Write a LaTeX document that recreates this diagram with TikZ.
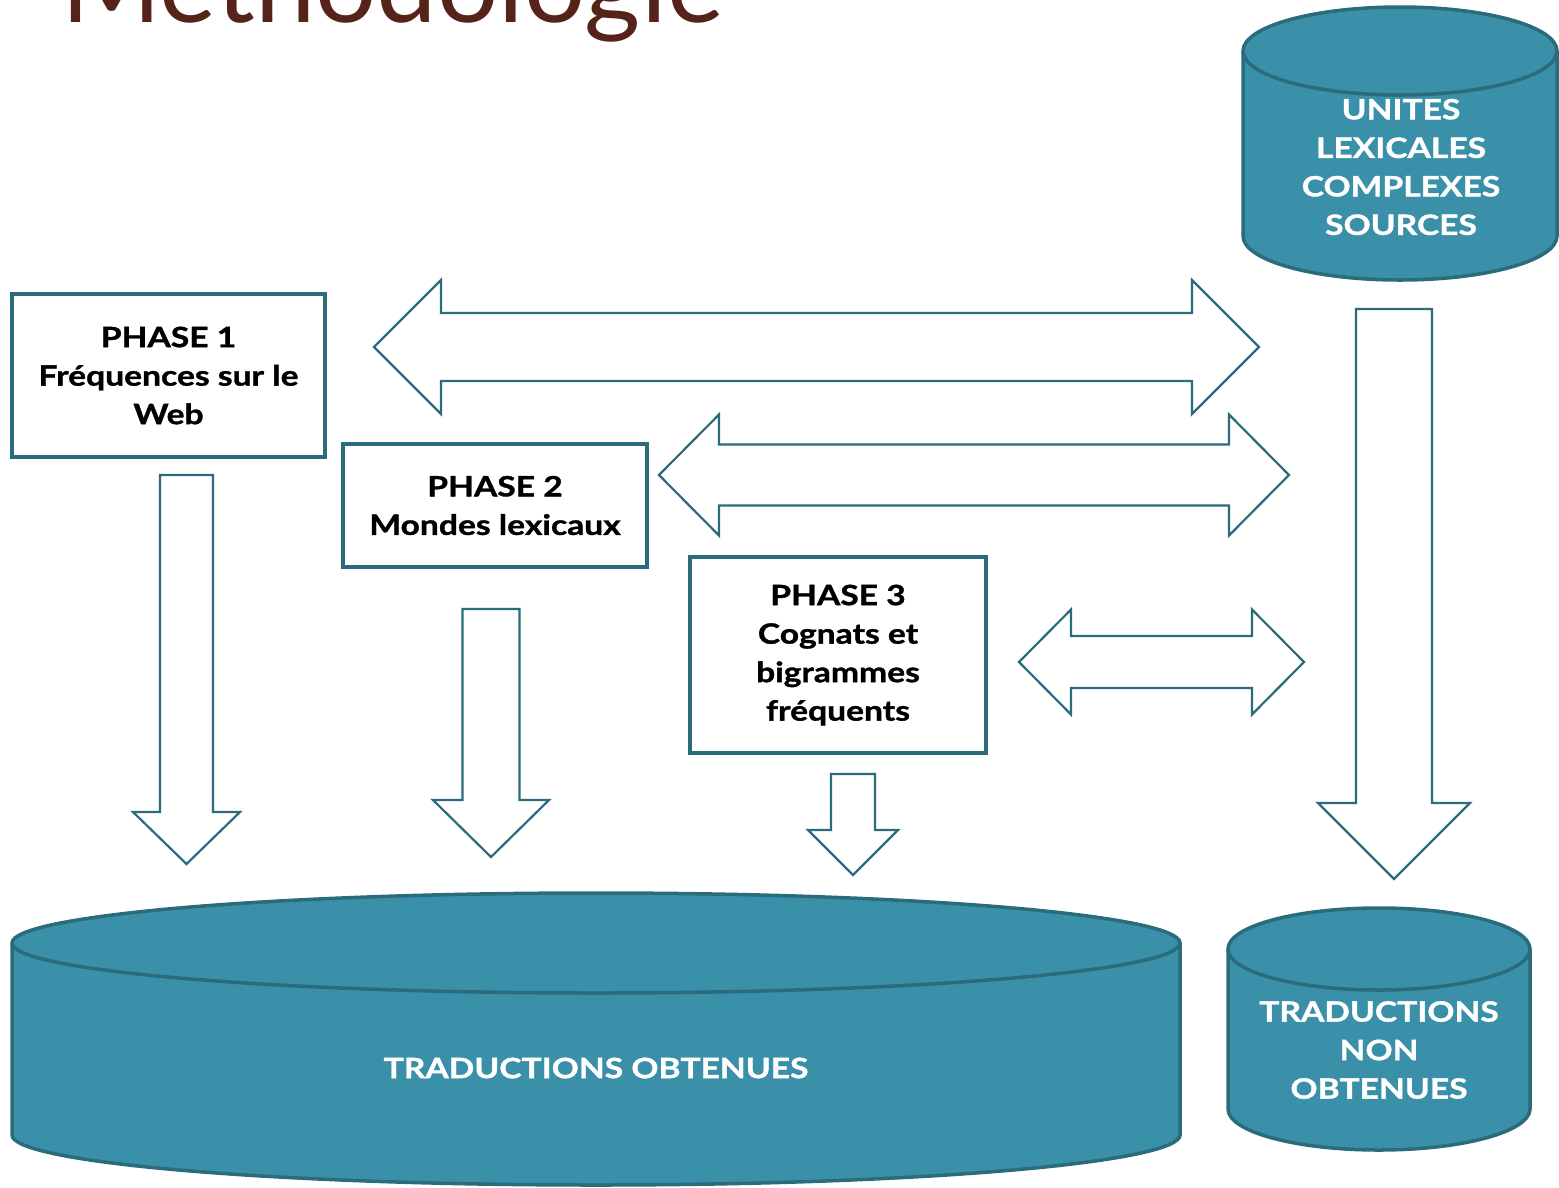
\documentclass[tikz,border=0pt]{standalone}
\usepackage{fontspec}
\setmainfont{Lato}
\newfontfamily\gill{Lato}[FakeStretch=1.2, BoldFeatures={FakeBold=1.2}]
\usepackage{tikz}

\definecolor{bleucuve}{HTML}{3A90A8}
\definecolor{bleubord}{HTML}{2A6B7C}
\definecolor{bruntitre}{HTML}{56231A}

% x gauche, x droite, y centre, longueur tete, demi-tete, demi-corps
\newcommand{\flecheDouble}[6]{%
  \draw[fleche] (#1,#3) -- ({#1+#4},{#3+#5}) -- ({#1+#4},{#3+#6}) -- ({#2-#4},{#3+#6})
    -- ({#2-#4},{#3+#5}) -- (#2,#3) -- ({#2-#4},{#3-#5}) -- ({#2-#4},{#3-#6})
    -- ({#1+#4},{#3-#6}) -- ({#1+#4},{#3-#5}) -- cycle;}
% x centre, y haut, y pointe, longueur tete, demi-tete, demi-corps
\newcommand{\flecheBas}[6]{%
  \draw[fleche] ({#1-#6},#2) -- ({#1+#6},#2) -- ({#1+#6},{#3+#4}) -- ({#1+#5},{#3+#4})
    -- (#1,#3) -- ({#1-#5},{#3+#4}) -- ({#1-#6},{#3+#4}) -- cycle;}
% x gauche, x droite, y ellipse haut, y ellipse bas, rayon y
\newcommand{\cuve}[5]{%
  \pgfmathsetmacro{\cuverx}{(#2-#1)/2}
  \filldraw[cuvestyle] (#1,#3) -- (#1,#4)
    arc[start angle=180, end angle=360, x radius=\cuverx pt, y radius=#5pt]
    -- (#2,#3) arc[start angle=0, end angle=180, x radius=\cuverx pt, y radius=#5pt] -- cycle;
  \draw[cuvestyle] (#1,#3) arc[start angle=180, end angle=360, x radius=\cuverx pt, y radius=#5pt];}

\begin{document}
\begin{tikzpicture}[x=1pt, y=1pt]
        \tikzset{phase/.style={draw=bleubord, line width=3.5pt, fill=white, align=center,
                    font=\gill\bfseries\fontsize{28}{38.5}\selectfont},
                 fleche/.style={draw=bleubord, line width=2.2pt, fill=white},
                 cuvestyle/.style={draw=bleubord, line width=3.5pt, fill=bleucuve},
                 textecuve/.style={text=white, align=center, font=\gill\bfseries\fontsize{28}{38.5}\selectfont}}
        \clip (0,0) rectangle (1559,-1187);

        \node [anchor=base west, inner sep=0, text=bruntitre, font=\fontsize{108}{118}\selectfont]
            (titre) at (61,-22) {Méthodologie};

        % bases de donnees
        \cuve{1243}{1557}{-51}{-236}{44}
        \node [textecuve] (sources) at (1401,-167) {UNITES\\LEXICALES\\COMPLEXES\\SOURCES};
        \cuve{12}{1180}{-943}{-1135}{50}
        \node [textecuve] (obtenues) at (596,-1068) {TRADUCTIONS OBTENUES};
        \cuve{1228}{1530}{-949}{-1109}{41}
        \node [textecuve] (nonobtenues) at (1379,-1050) {TRADUCTIONS\\NON\\OBTENUES};

        % phases
        \node [phase, minimum width=313pt, minimum height=163pt] (1) at (168.5,-375.5)
            {PHASE 1\\Fréquences sur le\\Web};
        \node [phase, minimum width=304pt, minimum height=123pt] (2) at (495,-505.5)
            {PHASE 2\\Mondes lexicaux};
        \node [phase, minimum width=296pt, minimum height=196pt] (3) at (838,-655)
            {PHASE 3\\Cognats et\\bigrammes\\fréquents};

        % fleches
        \flecheDouble{374}{1259}{-347}{67}{67}{34}
        \flecheDouble{659}{1289}{-475}{60}{60.5}{30.5}
        \flecheDouble{1019}{1304}{-662}{52}{52.5}{26}
        \flecheBas{186.5}{-475}{-864}{52}{53.5}{26.5}
        \flecheBas{491}{-609}{-857}{57}{58}{28.5}
        \flecheBas{853}{-774}{-875}{45}{45}{22}
        \flecheBas{1394}{-309}{-879}{76}{76}{38}
    \end{tikzpicture}
\end{document}
